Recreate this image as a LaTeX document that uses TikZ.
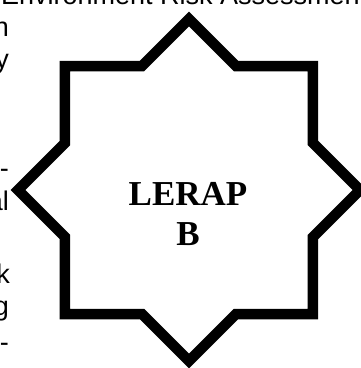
\documentclass[tikz,border=0pt]{standalone}
\usepackage{fontspec}
\usepackage{xcolor}
\usepackage{tikz}
\setmainfont{Liberation Serif}
\newfontfamily\bodyfont{Liberation Sans}

\begin{document}
\begin{tikzpicture}[x=1pt, y=-1pt,
    starline/.style={draw=black, line width=10.5pt, miter limit=10, fill=white},
    frag/.style={anchor=base east, inner sep=0pt, font=\bodyfont\fontsize{27}{27}\selectfont},
    title/.style={anchor=base, inner sep=0pt, font=\bfseries\fontsize{35}{35}\selectfont}]
            \useasboundingbox (0,0) rectangle (360,368);
            \node[anchor=base west, inner sep=0pt, font=\bodyfont\fontsize{27}{27}\selectfont] (head) at (1,4) {Environment Risk Assessment};
            \node[frag] (f1) at (9,36) {n};
            \node[frag] (f2) at (9,68) {y};
            \node[frag] (f3) at (9,177) {-};
            \node[frag] (f4) at (9,210) {al};
            \node[frag] (f5) at (10,283) {k};
            \node[frag] (f6) at (9,315) {g};
            \node[frag] (f7) at (9,351) {-};
            \draw[starline] (189,19) -- (236,66) -- (313,66) -- (313,143)
                -- (360,190) -- (313,237) -- (313,314) -- (236,314)
                -- (189,361) -- (142,314) -- (65,314) -- (65,237)
                -- (18,190) -- (65,143) -- (65,66) -- (142,66) -- cycle;
            \node[title] (lerap) at (188,205) {LERAP};
            \node[title] (lerapb) at (188,245) {B};
        \end{tikzpicture}
\end{document}
